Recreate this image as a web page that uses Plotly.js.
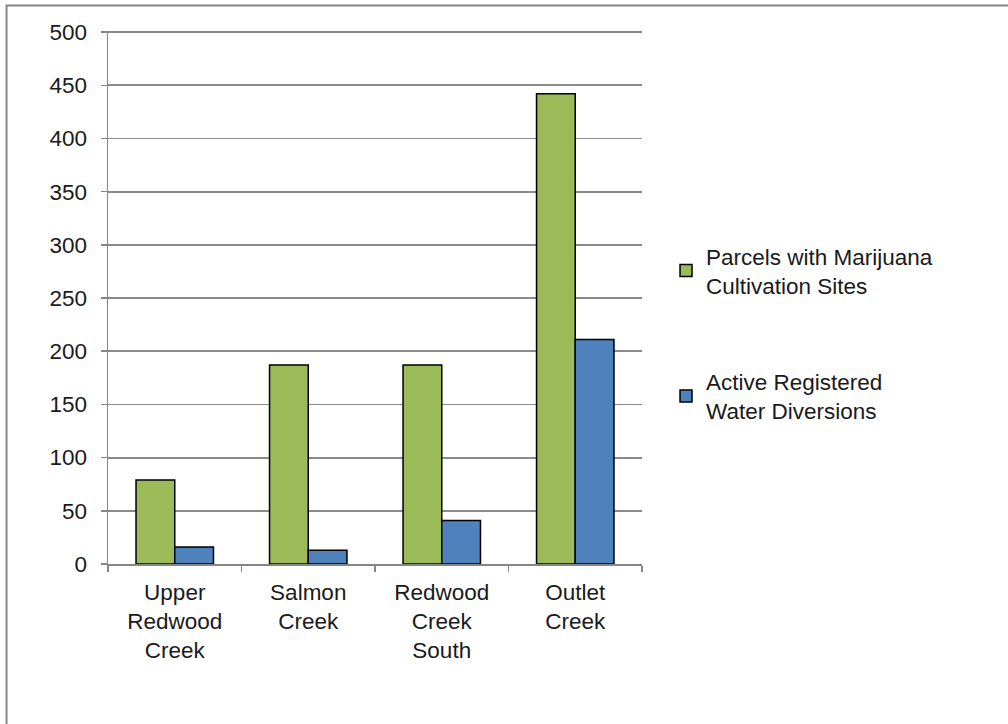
<!DOCTYPE html>
<html>
<head>
<meta charset="utf-8">
<script src="https://cdn.plot.ly/plotly-3.0.1.min.js"></script>
<style>html,body{margin:0;padding:0;background:#fff;}#chart{width:1008px;height:724px;}</style>
</head>
<body>
<div id="chart"></div>
<script>
const categories = ["Upper<br>Redwood<br>Creek", "Salmon<br>Creek", "Redwood<br>Creek<br>South", "Outlet<br>Creek"];
const seriesNames = ["Parcels with Marijuana<br>Cultivation Sites", "Active Registered<br>Water Diversions"];
const parcels = [79, 187, 187, 442];
const diversions = [16, 13, 41, 211];
const yTicks = [0, 50, 100, 150, 200, 250, 300, 350, 400, 450, 500];

const font = {family: "Liberation Sans, Arial, sans-serif", size: 22.5, color: "#1a1a1a"};

const traces = [
  {type: "bar", x: categories, y: parcels, name: seriesNames[0], legendgroup: "a",
   marker: {color: "#9BBB59", line: {color: "#000", width: 1.5}}},
  {type: "bar", x: categories, y: diversions, name: seriesNames[1], legendgroup: "b",
   marker: {color: "#4F81BD", line: {color: "#000", width: 1.5}}}
];

const layout = {
  width: 1008, height: 724,
  margin: {l: 108, r: 366, t: 31, b: 160},
  paper_bgcolor: "#fff", plot_bgcolor: "#fff",
  font: font,
  barmode: "group", bargap: 0.42, bargroupgap: 0,
  showlegend: true,
  legend: {x: 1.045, y: 0.433, xanchor: "left", yanchor: "middle", traceorder: "grouped",
           tracegroupgap: 64, font: font, itemwidth: 30, bgcolor: "rgba(0,0,0,0)"},
  xaxis: {type: "category", showgrid: false, showline: true, linecolor: "#868686", linewidth: 1.5,
          ticks: "outside", tickson: "boundaries", ticklen: 6, tickcolor: "#868686", tickwidth: 1.5,
          tickfont: font, automargin: false, ticklabelstandoff: 7},
  yaxis: {range: [0, 501], tickvals: yTicks, showgrid: true, gridcolor: "#8a8a8a", gridwidth: 1.8,
          showline: true, linecolor: "#868686", linewidth: 1.5, ticks: "outside", ticklen: 6,
          tickcolor: "#868686", tickwidth: 1.5, tickfont: font, zeroline: false, automargin: false,
          ticklabelstandoff: 9},
  shapes: [{type: "rect", xref: "paper", yref: "paper", x0: -0.190, x1: 1.70, y0: -0.33, y1: 1.048,
            line: {color: "#868686", width: 2}, fillcolor: "rgba(0,0,0,0)", layer: "below"}]
};

Plotly.newPlot("chart", traces, layout, {displayModeBar: false, staticPlot: true});
</script>
</body>
</html>
